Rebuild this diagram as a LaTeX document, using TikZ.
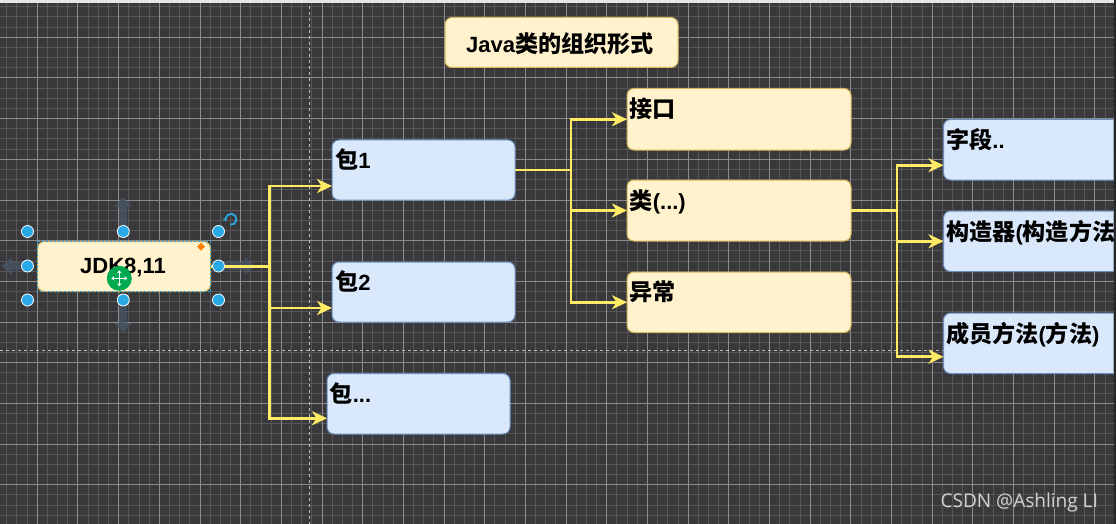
\documentclass[tikz,border=0pt]{standalone}
\usepackage{fontspec}
\setmainfont{Liberation Sans}
\newfontfamily\cjk{Noto Sans CJK SC}[Scale=1.05]
\newfontfamily\wmfont{Open Sans}
\usetikzlibrary{arrows.meta,calc}
\definecolor{bgc}{RGB}{57,57,59}
\definecolor{minorc}{RGB}{86,86,88}
\definecolor{majorc}{RGB}{140,140,142}
\definecolor{ylw}{RGB}{255,234,102}
\definecolor{yfill}{RGB}{255,242,204}
\definecolor{ydraw}{RGB}{214,182,86}
\definecolor{bfill}{RGB}{218,232,252}
\definecolor{bdraw}{RGB}{108,142,191}
\definecolor{handle}{RGB}{41,170,230}
\definecolor{ghost}{RGB}{70,84,98}
\definecolor{grn}{RGB}{0,168,80}
\begin{document}
\begin{tikzpicture}[x=1pt,y=-1pt,
  minorl/.style={draw=minorc,line width=1pt},
  majorl/.style={draw=majorc,line width=1pt},
  pagel/.style={draw=white!75!black,line width=1pt,dash pattern=on 3pt off 3pt},
  ybox/.style={draw=ydraw,fill=yfill,line width=1pt,rounded corners=7pt,inner sep=0pt,outer sep=0pt,anchor=north west},
  bbox/.style={draw=bdraw,fill=bfill,line width=1pt,rounded corners=7pt,inner sep=0pt,outer sep=0pt,anchor=north west},
  lbl/.style={inner sep=0pt,anchor=base west,font=\fontsize{22}{26}\selectfont\bfseries,text=black},
  edge/.style={draw=ylw,line width=2.8pt,-{Stealth[length=15pt,width=14pt,inset=4.5pt]}},
  hnd/.style={circle,fill=handle,draw=white,line width=0.8pt,minimum size=12pt,inner sep=0pt},
  ghostarrow/.style={draw=ghost,line width=8pt,-{Triangle[length=10pt,width=18pt]}}
]
\useasboundingbox (0,0) rectangle (1116,524);
% background and grid
\fill[bgc] (0,0) rectangle (1116,524);
\begin{scope}
\clip (0,0) rectangle (1116,524);
\foreach \i in {0,...,110} {\draw[minorl] ({-3.38+\i*10.17},0) -- ++(0,524);}
\foreach \i in {0,...,52} {\draw[minorl] (0,{-3.38+\i*10.17}) -- ++(1116,0);}
\foreach \i in {0,...,27} {\draw[majorl] ({-3.38+\i*40.68},0) -- ++(0,524);}
\foreach \i in {0,...,13} {\draw[majorl] (0,{-3.38+\i*40.68}) -- ++(1116,0);}
\draw[pagel] (309,0) -- (309,524);
\draw[pagel] (0,350) -- (1116,350);
\end{scope}
\fill[white!90!black] (0,0) rectangle (1116,3.5);
% ghost move arrows around selected node
\begin{scope}[opacity=0.8]
\draw[ghostarrow] (123,227) -- (123,197);
\draw[ghostarrow] (123,306) -- (123,333);
\draw[ghostarrow] (24,266) -- (2,266);
\draw[ghostarrow] (224,266) -- (255,266);
\end{scope}
% nodes
\node[ybox,minimum width=233pt,minimum height=50pt] (title) at (445,17.5) {};
\node[inner sep=0pt,anchor=base,font=\fontsize{22}{26}\selectfont\bfseries] (titlet) at (560,52.5) {Java{\cjk 类的组织形式}};
\node[ybox,minimum width=173pt,minimum height=50pt] (jdk) at (37.5,241.5) {};
\draw[handle,line width=0.8pt,dash pattern=on 2pt off 2pt] (jdk.north west) rectangle (jdk.south east);
\node[inner sep=0pt,anchor=base,font=\fontsize{22}{26}\selectfont\bfseries] (jdkt) at (123,273.5) {JDK8,11};

\node[bbox,minimum width=183pt,minimum height=60pt] (b1) at (332,140) {};
\node[bbox,minimum width=183pt,minimum height=60pt] (b2) at (332,262) {};
\node[bbox,minimum width=183pt,minimum height=60.5pt] (b3) at (327,373.5) {};
\node[lbl] (b1t) at ($(b1.north west)+(3,28.5)$) {{\cjk 包}1};
\node[lbl] (b2t) at ($(b2.north west)+(3,28.5)$) {{\cjk 包}2};
\node[lbl] (b3t) at ($(b3.north west)+(2.5,28.5)$) {{\cjk 包}...};

\node[ybox,minimum width=224pt,minimum height=61.5pt] (i1) at (627,88.5) {};
\node[ybox,minimum width=224pt,minimum height=61pt] (c2) at (627,180) {};
\node[ybox,minimum width=224pt,minimum height=60.5pt] (c3) at (627,272) {};
\node[lbl] (i1t) at ($(i1.north west)+(2.5,29)$) {\cjk 接口};
\node[lbl] (c2t) at ($(c2.north west)+(2.5,29.5)$) {{\cjk 类}(...)};
\node[lbl] (c3t) at ($(c3.north west)+(2.5,28)$) {\cjk 异常};

\begin{scope}
\clip (0,0) rectangle (1113.5,524);
\node[bbox,minimum width=200pt,minimum height=60.5pt] (f1) at (943.5,119.5) {};
\node[bbox,minimum width=200pt,minimum height=60.5pt] (f2) at (943.5,211) {};
\node[bbox,minimum width=200pt,minimum height=60.5pt] (f3) at (943.5,313) {};
\node[lbl] (f1t) at ($(f1.north west)+(2.5,29)$) {{\cjk 字段}..};
\node[lbl] (f2t) at ($(f2.north west)+(2.5,29)$) {{\cjk 构造器}({\cjk 构造方法})};
\node[lbl] (f3t) at ($(f3.north west)+(2.5,29)$) {{\cjk 成员方法}({\cjk 方法})};
\end{scope}
\fill[black!85] (1113.5,0) rectangle (1116,524);

% connectors
\draw[edge] (jdk.east) -- ++(59,0) |- ($(b1.west)+(0,16)$);
\draw[edge] (jdk.east) -- ++(59,0) |- ($(b2.west)+(0,16)$);
\draw[edge] (jdk.east) -- ++(59,0) |- ($(b3.west)+(0,14.5)$);
\draw[edge] (b1.east) -- ++(56,0) |- (i1.west);
\draw[edge] (b1.east) -- ++(56,0) |- (c2.west);
\draw[edge] (b1.east) -- ++(56,0) |- (c3.west);
\draw[edge] (c2.east) -- ++(46,0) |- ($(f1.west)+(0,15.5)$);
\draw[edge] (c2.east) -- ++(46,0) |- (f2.west);
\draw[edge] (c2.east) -- ++(46,0) |- ($(f3.west)+(0,13.5)$);

% selection handles
\node[hnd] (h1) at (27.5,231.5) {};
\node[hnd] (h2) at (123.3,231.5) {};
\node[hnd] (h3) at (218.5,231.5) {};
\node[hnd] (h4) at (27.5,266) {};
\node[hnd] (h5) at (218.5,266) {};
\node[hnd] (h6) at (27.5,300) {};
\node[hnd] (h7) at (123.3,300) {};
\node[hnd] (h8) at (218.5,300) {};
\draw[handle,line width=1.8pt,-{Stealth[length=3.5pt,width=5pt]}] (231,219.3) ++(100:5.5) arc[start angle=100,end angle=-200,radius=5.5];
\fill[orange] (201,242.7) -- (205,246.7) -- (201,250.7) -- (197,246.7) -- cycle;
\node[circle,fill=grn,minimum size=25pt,inner sep=0pt] (mv) at (119.3,278.3) {};
\draw[white,line width=1.6pt,{Stealth[length=3pt,width=4.5pt]}-{Stealth[length=3pt,width=4.5pt]}] ($(mv.center)+(-8,0)$) -- ($(mv.center)+(8,0)$);
\draw[white,line width=1.6pt,{Stealth[length=3pt,width=4.5pt]}-{Stealth[length=3pt,width=4.5pt]}] ($(mv.center)+(0,-8)$) -- ($(mv.center)+(0,8)$);

% watermark
\node[inner sep=0pt,anchor=base east,font=\wmfont\fontsize{19}{22}\selectfont,text=black!70] (wms) at (1099,508) {CSDN @Ashling LI};
\node[inner sep=0pt,anchor=base east,font=\wmfont\fontsize{19}{22}\selectfont,text=white!82!black] (wm) at (1098,507) {CSDN @Ashling LI};
\end{tikzpicture}
\end{document}
